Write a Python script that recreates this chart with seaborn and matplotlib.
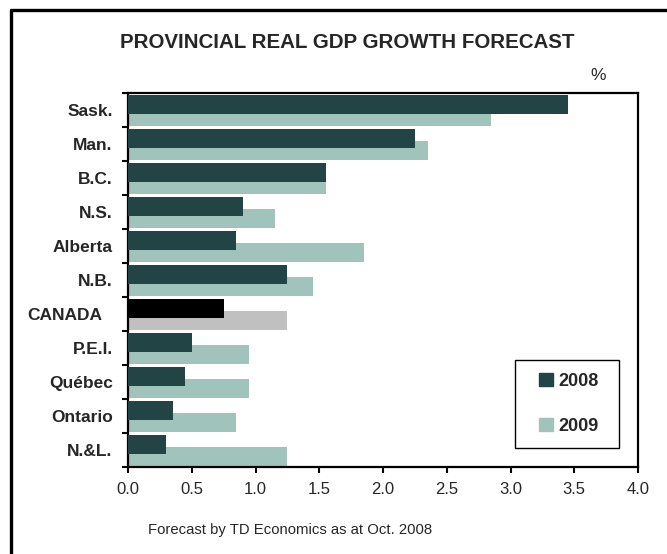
import matplotlib
matplotlib.use("Agg")
import matplotlib.pyplot as plt
import matplotlib.patches as mpatches
import matplotlib.transforms as mtransforms
from matplotlib.lines import Line2D
import seaborn as sns
import pandas as pd

regions = ["Sask.", "Man.", "B.C.", "N.S.", "Alberta", "N.B.", "CANADA",
           "P.E.I.", "Québec", "Ontario", "N.&L."]
growth_2008 = [3.45, 2.25, 1.55, 0.90, 0.85, 1.25, 0.75, 0.50, 0.45, 0.35, 0.30]
growth_2009 = [2.85, 2.35, 1.55, 1.15, 1.85, 1.45, 1.25, 0.95, 0.95, 0.85, 1.25]
x_ticks = [0.0, 0.5, 1.0, 1.5, 2.0, 2.5, 3.0, 3.5, 4.0]

DARK = "#224444"
LIGHT = "#a0c4bc"
CAN_DARK = "#000000"
CAN_LIGHT = "#c0c0c0"

sns.set_theme(style="white")
plt.rcParams["font.family"] = ["Liberation Sans", "DejaVu Sans"]

df08 = pd.DataFrame({"region": regions, "value": growth_2008})
df09 = pd.DataFrame({"region": regions, "value": growth_2009})

pal08 = {r: (CAN_DARK if r == "CANADA" else DARK) for r in regions}
pal09 = {r: (CAN_LIGHT if r == "CANADA" else LIGHT) for r in regions}

fig = plt.figure(figsize=(6.67, 5.54), dpi=100)
ax = fig.add_axes([128 / 667, 1 - 467 / 554, (638 - 128) / 667, (467 - 93) / 554])

BAR_H = 0.56
OFF08 = -0.16
OFF09 = 0.19

# 2009 drawn first (behind)
sns.barplot(data=df09, y="region", x="value", hue="region", palette=pal09,
            order=regions, hue_order=regions, orient="h", width=BAR_H,
            dodge=False, legend=False, ax=ax, saturation=1, linewidth=0,
            errorbar=None)
n09 = len(ax.patches)
for p in ax.patches[:n09]:
    p.set_y(p.get_y() + OFF09)
sns.barplot(data=df08, y="region", x="value", hue="region", palette=pal08,
            order=regions, hue_order=regions, orient="h", width=BAR_H,
            dodge=False, legend=False, ax=ax, saturation=1, linewidth=0,
            errorbar=None)
for p in ax.patches[n09:]:
    p.set_y(p.get_y() + OFF08)
    p.set_zorder(3)

ax.set_xlim(0, 4)
ax.set_ylim(len(regions) - 0.5, -0.5)
ax.set_xlabel("")
ax.set_ylabel("")

ax.set_xticks(x_ticks)
ax.set_xticklabels([f"{v:.1f}" for v in x_ticks], fontsize=12)
ax.set_yticks(range(len(regions)))
ax.set_yticklabels(regions, fontsize=12.5, fontweight="bold")
ax.set_yticks([i - 0.5 for i in range(len(regions) + 1)], minor=True)
ax.tick_params(axis="y", which="major", length=0, pad=11)
ax.tick_params(axis="y", which="minor", length=4, width=1.5, color="black", direction="out", left=True)
ax.tick_params(axis="x", which="major", length=4, width=1.5, color="black", direction="out", bottom=True, pad=7)
ax.grid(False)

# CANADA label sits a little further left in the original
for lbl in ax.get_yticklabels():
    if lbl.get_text() == "CANADA":
        lbl.set_transform(lbl.get_transform() +
                          mtransforms.ScaledTranslation(-0.10, 0, fig.dpi_scale_trans))

for s in ax.spines.values():
    s.set_visible(True)
    s.set_color("black")
    s.set_linewidth(1.6)

# legend box (drawn separately) and centred legend entries
bx0, bx1, by0, by1 = 515, 619, 360, 448   # pixel box of the legend frame
ax.add_patch(mpatches.Rectangle(((bx0 - 128) / 510, (467 - by1) / 374),
                                (bx1 - bx0) / 510, (by1 - by0) / 374,
                                transform=ax.transAxes, fill=True,
                                facecolor="white", edgecolor="black",
                                linewidth=1.0, zorder=4, clip_on=False))
handles = [mpatches.Patch(color=DARK, label="2008"),
           mpatches.Patch(color=LIGHT, label="2009")]
leg = ax.legend(handles=handles, loc="center",
                bbox_to_anchor=(((bx0 + bx1) / 2 + 2 - 128) / 510,
                                (467 - (by0 + by1) / 2) / 374),
                frameon=False,
                prop={"weight": "bold", "size": 13},
                handlelength=0.75, handleheight=0.75, handletextpad=0.3,
                labelspacing=1.55, borderpad=0, borderaxespad=0)
leg.set_zorder(5)

fig.text(347 / 667, 1 - 42 / 554, "PROVINCIAL REAL GDP GROWTH FORECAST",
         ha="center", va="center", fontsize=14.8, fontweight="bold")
fig.text(598 / 667, 1 - 76 / 554, "%", ha="center", va="center", fontsize=12.5)
fig.text(290 / 667, 1 - 530 / 554, "Forecast by TD Economics as at Oct. 2008",
         ha="center", va="center", fontsize=10.7)

# outer frame (left and top visible)
fig.add_artist(Line2D([11 / 667, 11 / 667], [0, 1 - 10 / 554], color="black",
                      lw=2.4, transform=fig.transFigure))
fig.add_artist(Line2D([11 / 667, 1], [1 - 10 / 554, 1 - 10 / 554], color="black",
                      lw=2.4, transform=fig.transFigure))

fig.savefig("out.png", dpi=100)
